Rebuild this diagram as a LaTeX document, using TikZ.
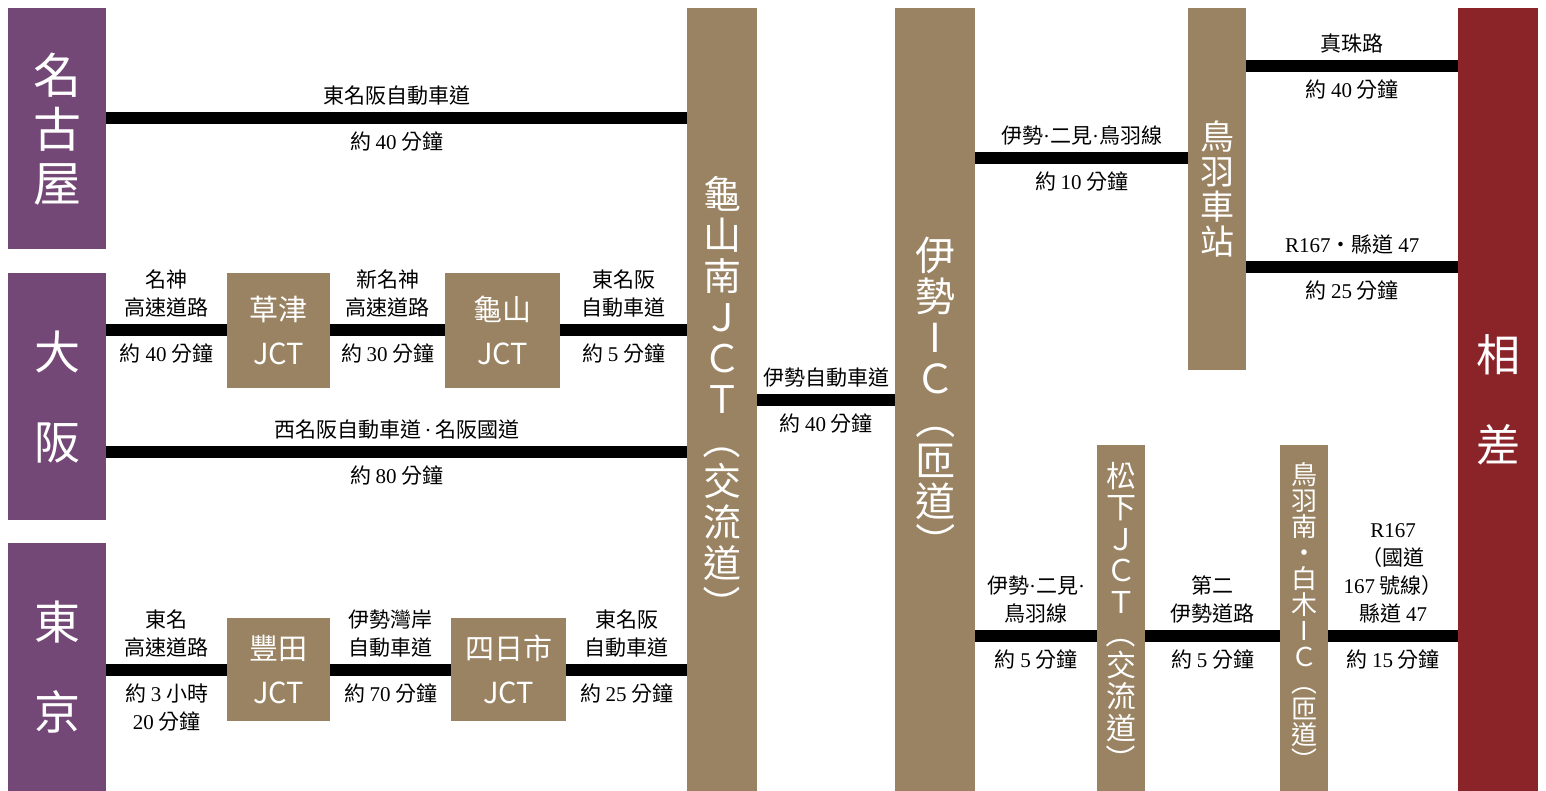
\documentclass[tikz,border=0pt]{standalone}
\usepackage{fontspec}
\usepackage{graphicx}
\newfontfamily\cjk{Noto Sans CJK TC}
\newfontfamily\nmf{Liberation Serif}
\newcommand\nm[1]{{\nmf #1}}
\newcommand\dotsep{{\nmf\,·\,}}
\newcommand\vlp{\rotatebox[origin=c]{-90}{（}}
\newcommand\vrp{\rotatebox[origin=c]{-90}{）}}
\definecolor{jpur}{RGB}{116,72,118}
\definecolor{jtan}{RGB}{154,131,98}
\definecolor{jred}{RGB}{139,36,41}
\begin{document}
\begin{tikzpicture}[x=1pt,y=-1pt,
 box/.style={rectangle, draw=none, inner sep=0pt, anchor=north west, text=white, align=center},
 pbox/.style={box, fill=jpur},
 tbox/.style={box, fill=jtan},
 rbox/.style={box, fill=jred},
 road/.style={line width=12pt, black},
 lbl/.style={font=\cjk\fontsize{21}{28}\selectfont, inner sep=0pt, align=center, text=black},
 up/.style={lbl, midway, above=7pt},
 dn/.style={lbl, midway, below=8pt},
 jfont/.style={font=\cjk\fontsize{29}{44}\selectfont},
]
\fill[white] (0,0) rectangle (1546,791);
\useasboundingbox (0,0) rectangle (1546,791);

% origin boxes
\node[pbox, minimum width=98pt, minimum height=241pt, font=\cjk\fontsize{48}{54}\selectfont] (nagoya) at (8,8) {名\\古\\屋};
\node[pbox, minimum width=98pt, minimum height=247pt, font=\cjk\fontsize{46}{90}\selectfont] (osaka) at (8,273) {大\\阪};
\node[pbox, minimum width=98pt, minimum height=248pt, font=\cjk\fontsize{46}{90}\selectfont] (tokyo) at (8,543) {東\\京};

% junction boxes
\node[tbox, minimum width=103pt, minimum height=115pt, jfont] (kusatsu) at (227,273) {草津\\JCT};
\node[tbox, minimum width=115pt, minimum height=115pt, jfont] (kameyama) at (445,273) {龜山\\JCT};
\node[tbox, minimum width=103pt, minimum height=103pt, jfont] (toyota) at (227,618) {豐田\\JCT};
\node[tbox, minimum width=115pt, minimum height=103pt, jfont] (yokkaichi) at (451,618) {四日市\\JCT};

% columns
\node[tbox, minimum width=70pt, minimum height=783pt, font=\cjk\fontsize{38}{41}\selectfont] (kms) at (687,8) {龜\\山\\南\\Ｊ\\Ｃ\\Ｔ\\\vlp\\交\\流\\道\\\vrp};
\node[tbox, minimum width=80pt, minimum height=783pt, font=\cjk\fontsize{40}{41}\selectfont] (iseic) at (895,8) {伊\\勢\\I\\Ｃ\\\vlp\\匝\\道\\\vrp};
\node[tbox, minimum width=58pt, minimum height=362pt, font=\cjk\fontsize{34}{35}\selectfont] (toba) at (1188,8) {鳥\\羽\\車\\站};
\node[rbox, minimum width=80pt, minimum height=783pt, font=\cjk\fontsize{44}{90}\selectfont] (osatsu) at (1458,8) {相\\差};
\node[tbox, minimum width=48pt, minimum height=346pt, font=\cjk\fontsize{30}{31.5}\selectfont] (matsu) at (1097,445) {松\\下\\Ｊ\\Ｃ\\Ｔ\\\vlp\\交\\流\\道\\\vrp};
\node[tbox, minimum width=48pt, minimum height=346pt, font=\cjk\fontsize{26}{26}\selectfont] (tobas) at (1280,445) {鳥\\羽\\南\\・\\白\\木\\I\\Ｃ\\\vlp\\匝\\道\\\vrp};

% rows
\coordinate (r1) at (0,118);
\coordinate (r2) at (0,330);
\coordinate (r3) at (0,452);
\coordinate (r4) at (0,670);
\coordinate (r5) at (0,400);
\coordinate (r6) at (0,158);
\coordinate (r7) at (0,66);
\coordinate (r8) at (0,267);
\coordinate (r9) at (0,636);

\draw[road] (nagoya.east |- r1) -- (kms.west |- r1)
  node[up] {東名阪自動車道} node[dn] {約 \nm{40} 分鐘};

\draw[road] (osaka.east |- r2) -- (kusatsu.west |- r2)
  node[up] {名神\\高速道路} node[dn] {約 \nm{40} 分鐘};
\draw[road] (kusatsu.east |- r2) -- (kameyama.west |- r2)
  node[up] {新名神\\高速道路} node[dn] {約 \nm{30} 分鐘};
\draw[road] (kameyama.east |- r2) -- (kms.west |- r2)
  node[up] {東名阪\\自動車道} node[dn] {約 \nm{5} 分鐘};

\draw[road] (osaka.east |- r3) -- (kms.west |- r3)
  node[up] {西名阪自動車道\dotsep 名阪國道} node[dn] {約 \nm{80} 分鐘};

\draw[road] (tokyo.east |- r4) -- (toyota.west |- r4)
  node[up] {東名\\高速道路} node[dn] {約 \nm{3} 小時\\\nm{20} 分鐘};
\draw[road] (toyota.east |- r4) -- (yokkaichi.west |- r4)
  node[up] {伊勢灣岸\\自動車道} node[dn] {約 \nm{70} 分鐘};
\draw[road] (yokkaichi.east |- r4) -- (kms.west |- r4)
  node[up] {東名阪\\自動車道} node[dn] {約 \nm{25} 分鐘};

\draw[road] (kms.east |- r5) -- (iseic.west |- r5)
  node[up] {伊勢自動車道} node[dn] {約 \nm{40} 分鐘};

\draw[road] (iseic.east |- r6) -- (toba.west |- r6)
  node[up] {伊勢\nm{·}二見\nm{·}鳥羽線} node[dn] {約 \nm{10} 分鐘};

\draw[road] (toba.east |- r7) -- (osatsu.west |- r7)
  node[up] {真珠路} node[dn] {約 \nm{40} 分鐘};
\draw[road] (toba.east |- r8) -- (osatsu.west |- r8)
  node[up] {\nm{R167}・縣道 \nm{47}} node[dn] {約 \nm{25} 分鐘};

\draw[road] (iseic.east |- r9) -- (matsu.west |- r9)
  node[up] {伊勢\nm{·}二見\nm{·}\\鳥羽線} node[dn] {約 \nm{5} 分鐘};
\draw[road] (matsu.east |- r9) -- (tobas.west |- r9)
  node[up] {第二\\伊勢道路} node[dn] {約 \nm{5} 分鐘};
\draw[road] (tobas.east |- r9) -- (osatsu.west |- r9)
  node[up] {\nm{R167}\\（國道\\\nm{167} 號線）\\縣道 \nm{47}} node[dn] {約 \nm{15} 分鐘};
\end{tikzpicture}
\end{document}
